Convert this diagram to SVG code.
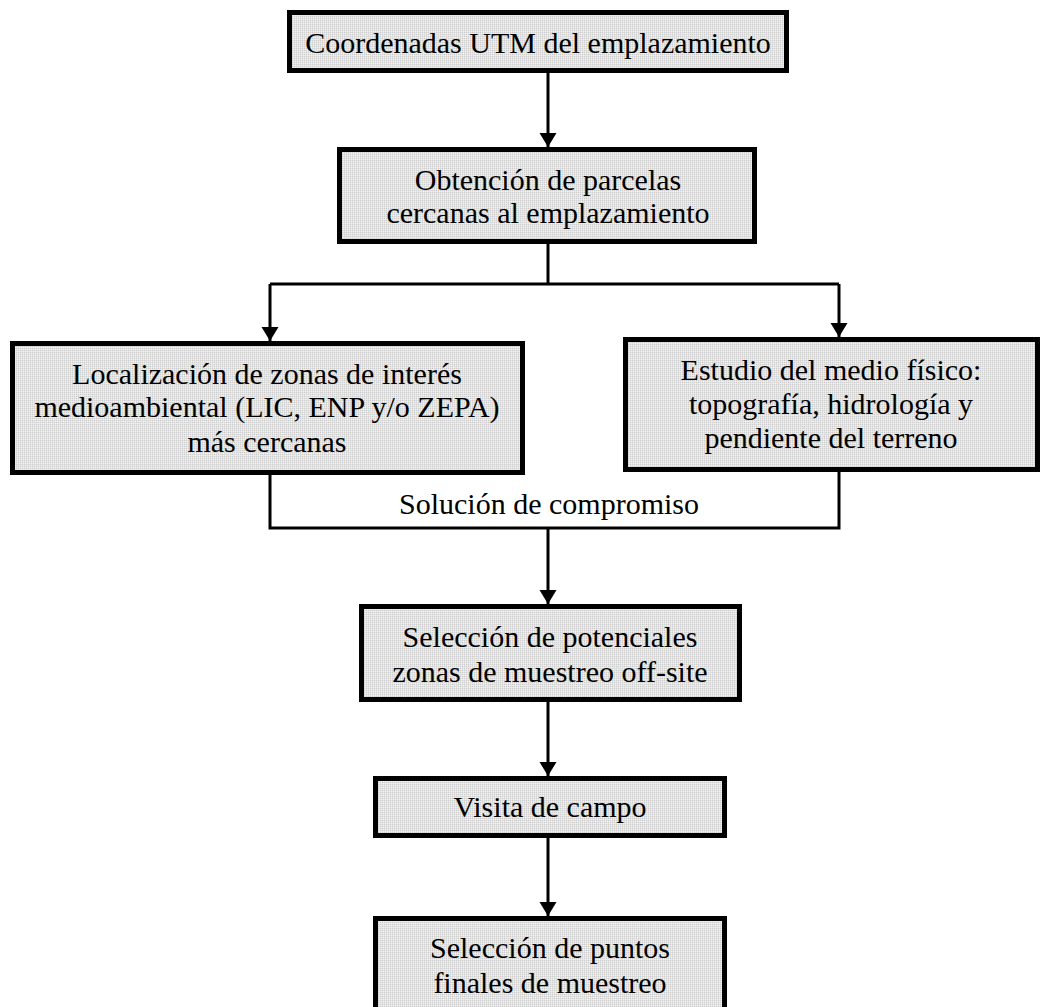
<svg xmlns="http://www.w3.org/2000/svg" width="1050" height="1007" viewBox="0 0 1050 1007">
<defs>
<pattern id="dots" width="2" height="2" patternUnits="userSpaceOnUse">
<rect width="2" height="2" fill="#e4e4e4"/>
<rect width="1" height="1" fill="#cfcfcf"/>
<rect x="1" y="1" width="1" height="1" fill="#f0f0f0"/>
</pattern>
<marker id="arr" markerUnits="userSpaceOnUse" markerWidth="16" markerHeight="18" refX="14" refY="8.5" orient="auto" viewBox="0 0 16 18">
<path d="M0,0 L14,8.5 L0,17 z" fill="#000"/>
</marker>
<style>
.box{fill:url(#dots);stroke:#000;stroke-width:5}
.t{font-family:"Liberation Serif","Times New Roman",serif;font-size:30px;fill:#000;text-anchor:middle}
.c{fill:none;stroke:#000;stroke-width:3}
</style>
</defs>
<rect width="1050" height="1007" fill="#fff"/>
<g id="connectors">
<line class="c" x1="548" y1="73" x2="548" y2="147" marker-end="url(#arr)"/>
<polyline class="c" points="548,244 548,284"/>
<polyline class="c" points="270,284 839,284"/>
<line class="c" x1="270" y1="284" x2="270" y2="341" marker-end="url(#arr)"/>
<line class="c" x1="839" y1="284" x2="839" y2="337" marker-end="url(#arr)"/>
<polyline class="c" points="270,475 270,528 839,528 839,472"/>
<line class="c" x1="548" y1="528" x2="548" y2="604" marker-end="url(#arr)"/>
<line class="c" x1="548" y1="702" x2="548" y2="776" marker-end="url(#arr)"/>
<line class="c" x1="548" y1="838" x2="548" y2="916" marker-end="url(#arr)"/>
<text class="t" x="549" y="514">Solución de compromiso</text>
</g>
<g id="n1">
<rect class="box" x="289.5" y="12.5" width="497" height="58"/>
<text class="t" x="538" y="53">Coordenadas UTM del emplazamiento</text>
</g>
<g id="n2">
<rect class="box" x="339.5" y="149.5" width="415" height="92"/>
<text class="t" x="548" y="190">Obtención de parcelas</text>
<text class="t" x="548" y="223">cercanas al emplazamiento</text>
</g>
<g id="n3">
<rect class="box" x="12.5" y="343.5" width="510" height="129"/>
<text class="t" x="267" y="384">Localización de zonas de interés</text>
<text class="t" x="267" y="417">medioambiental (LIC, ENP y/o ZEPA)</text>
<text class="t" x="267" y="452">más cercanas</text>
</g>
<g id="n4">
<rect class="box" x="625.5" y="339.5" width="412" height="130"/>
<text class="t" x="831" y="380">Estudio del medio físico:</text>
<text class="t" x="831" y="414">topografía, hidrología y</text>
<text class="t" x="831" y="448">pendiente del terreno</text>
</g>
<g id="n5">
<rect class="box" x="361.5" y="606.5" width="378" height="93"/>
<text class="t" x="550" y="647">Selección de potenciales</text>
<text class="t" x="550" y="682">zonas de muestreo off-site</text>
</g>
<g id="n6">
<rect class="box" x="375.5" y="778.5" width="349" height="57"/>
<text class="t" x="550" y="817">Visita de campo</text>
</g>
<g id="n7">
<rect class="box" x="375.5" y="918.5" width="349" height="100"/>
<text class="t" x="550" y="958">Selección de puntos</text>
<text class="t" x="550" y="993">finales de muestreo</text>
</g>
</svg>
